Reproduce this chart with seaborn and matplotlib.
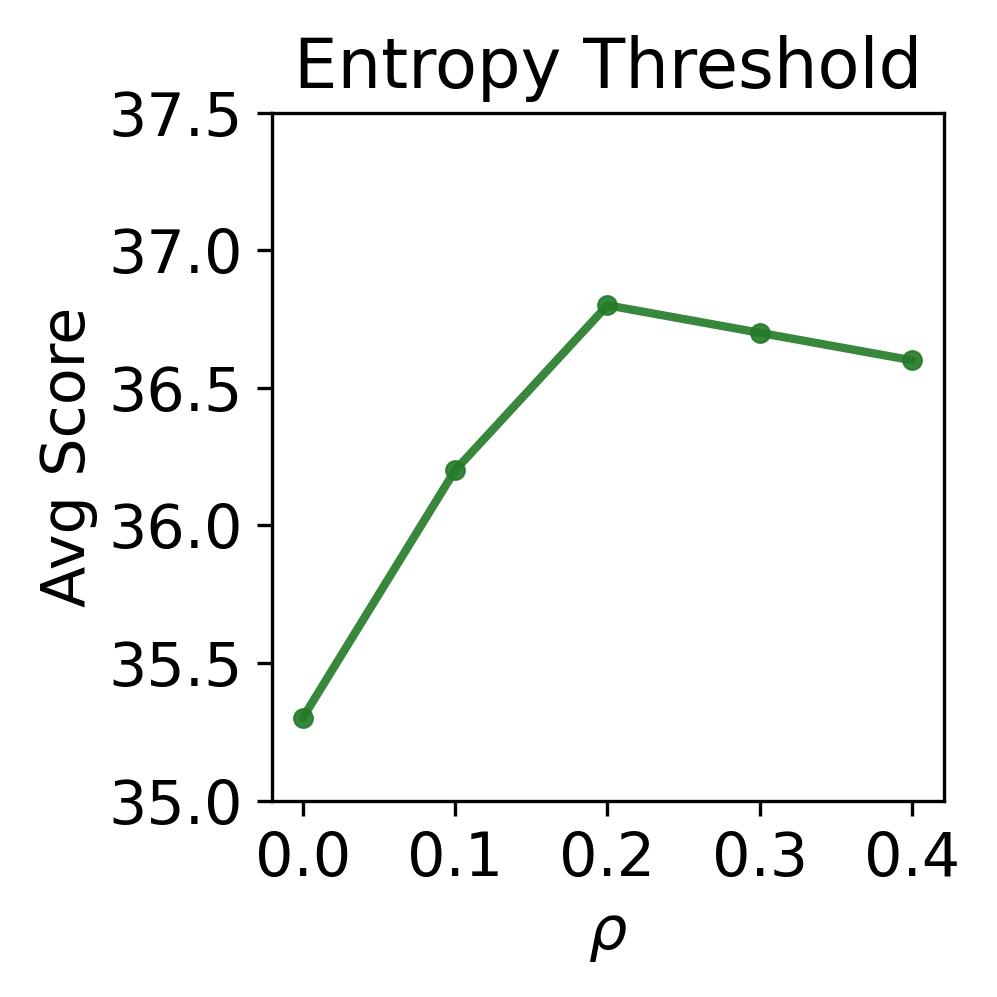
import matplotlib
matplotlib.use("Agg")
import matplotlib.pyplot as plt
import seaborn as sns
import pandas as pd

rho = [0.0, 0.1, 0.2, 0.3, 0.4]
avg_score = [35.3, 36.2, 36.8, 36.7, 36.6]
xticks = [0.0, 0.1, 0.2, 0.3, 0.4]
yticks = [35.0, 35.5, 36.0, 36.5, 37.0, 37.5]

sns.set_style("ticks")
plt.rcParams['font.family'] = ['DejaVu Sans']
plt.rcParams.update({
    "text.color": "black", "axes.labelcolor": "black",
    "xtick.color": "black", "ytick.color": "black",
    "axes.edgecolor": "black",
})

df = pd.DataFrame({"rho": rho, "score": avg_score})

fig = plt.figure(figsize=(997/300, 997/300), dpi=300)
ax = fig.add_axes([0.273, 0.197, 0.947-0.273, 0.887-0.197])
sns.lineplot(data=df, x="rho", y="score", ax=ax, color="#237a28", alpha=0.9,
             linewidth=2, marker="o", markersize=4.5, markeredgewidth=0.5,
             markeredgecolor="#237a28")
ax.set_xlim(-0.02, 0.421)
ax.set_ylim(35.0, 37.5)
ax.set_xticks(xticks)
ax.set_xticklabels([f"{v:.1f}" for v in xticks])
ax.set_yticks(yticks)
ax.set_yticklabels([f"{v:.1f}" for v in yticks])
ax.tick_params(labelsize=14.5, width=0.8, length=3.5)
for s in ax.spines.values():
    s.set_linewidth(0.8)
ax.set_xlabel(r"$\rho$", fontsize=14.5)
ax.set_ylabel("Avg Score", fontsize=14.5, labelpad=2.5)
ax.set_title("Entropy Threshold", fontsize=16.5)
fig.savefig("out.png", dpi=300)
